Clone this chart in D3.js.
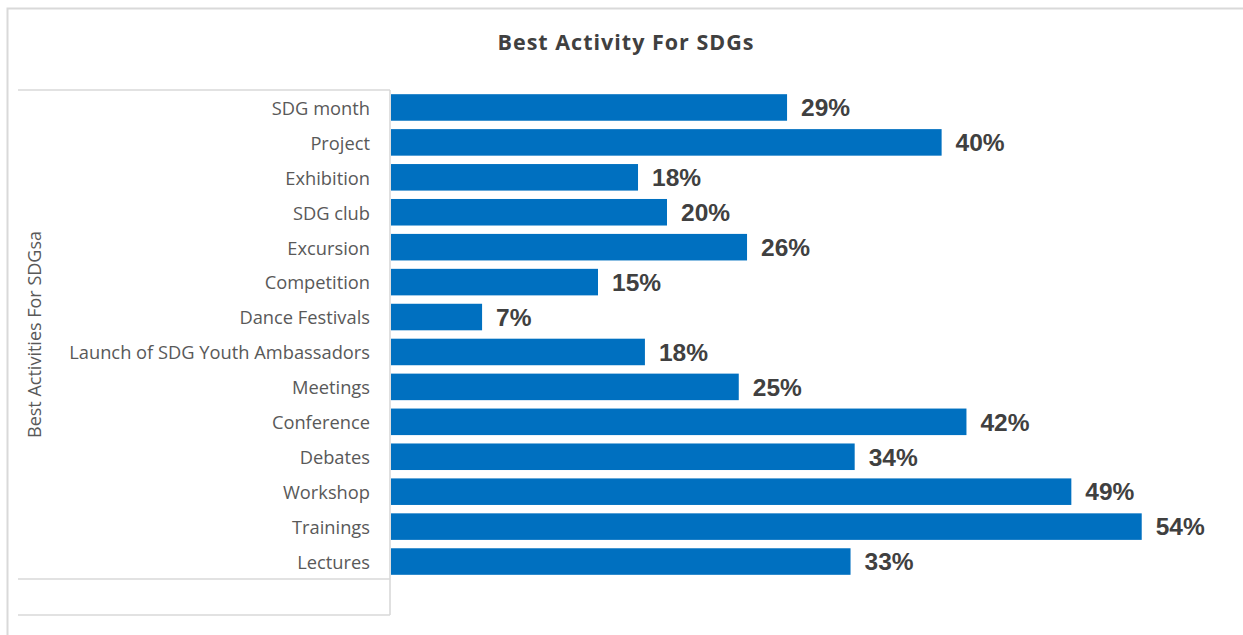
<!DOCTYPE html>
<html>
<head>
<meta charset="utf-8">
<script src="https://cdn.jsdelivr.net/npm/d3@7"></script>
<style>
  html, body { margin: 0; padding: 0; background: #ffffff; }
  svg { display: block; }
</style>
</head>
<body>
<svg id="chart" width="1243" height="635"></svg>
<script>
// Chart data
const chartTitle = "Best Activity For SDGs";
const axisTitle = "Best Activities For SDGsa";
const categories = [
  "SDG month ", "Project", "Exhibition", "SDG club", "Excursion", "Competition",
  "Dance Festivals", "Launch of SDG Youth Ambassadors", "Meetings", "Conference",
  "Debates", "Workshop", "Trainings", "Lectures"
];
// Share of respondents choosing each activity
const shares = [
  0.287, 0.399, 0.179, 0.200, 0.258, 0.150,
  0.066, 0.184, 0.252, 0.417, 0.336, 0.493, 0.544, 0.333
];
const axisMax = 0.6;

const svg = d3.select("#chart");
const W = 1243, H = 635;

// Outer chart frame
svg.append("rect")
  .attr("x", 7.5).attr("y", 8.5)
  .attr("width", W + 10).attr("height", H + 10)
  .attr("fill", "#ffffff")
  .attr("stroke", "#d9d9d9").attr("stroke-width", 2);

// Title
svg.append("text")
  .attr("x", 626).attr("y", 50)
  .attr("text-anchor", "middle")
  .attr("font-family", "'Open Sans', sans-serif")
  .attr("font-weight", 700)
  .attr("font-size", 21.5)
  .attr("letter-spacing", 1.0)
  .attr("fill", "#404040")
  .text(chartTitle);

const plotLeft = 391, plotTop = 90, plotBottom = 579;

const y = d3.scaleBand()
  .domain(categories)
  .range([plotTop, plotBottom])
  .paddingInner(0.24)
  .paddingOuter(0.12);

const x = d3.scaleLinear()
  .domain([0, axisMax])
  .range([plotLeft, plotLeft + 828]);

// Category axis frame (grouped table style)
const frame = svg.append("g")
  .attr("stroke", "#d9d9d9").attr("stroke-width", 1.6).attr("fill", "none");
frame.append("line").attr("x1", 18).attr("x2", 390).attr("y1", plotTop).attr("y2", plotTop);
frame.append("line").attr("x1", 18).attr("x2", 390).attr("y1", plotBottom).attr("y2", plotBottom);
frame.append("line").attr("x1", 18).attr("x2", 390).attr("y1", 615).attr("y2", 615);
frame.append("line").attr("x1", 390).attr("x2", 390).attr("y1", plotTop).attr("y2", 615);

// Category labels via D3 axis
const yAxis = d3.axisLeft(y).tickSize(0).tickPadding(20);
const gy = svg.append("g")
  .attr("transform", `translate(390,0)`)
  .call(yAxis);
gy.select(".domain").remove();
gy.selectAll("text")
  .attr("dy", "0.4em")
  .attr("font-family", "'Open Sans', sans-serif")
  .attr("font-size", 18.3)
  .attr("fill", "#595959");

// Axis title
svg.append("text")
  .attr("transform", `translate(41,${(plotTop + plotBottom) / 2}) rotate(-90)`)
  .attr("text-anchor", "middle")
  .attr("font-family", "'Open Sans', sans-serif")
  .attr("font-size", 18)
  .attr("fill", "#595959")
  .text(axisTitle);

// Bars
svg.append("g")
  .selectAll("rect")
  .data(categories)
  .join("rect")
  .attr("x", x(0))
  .attr("y", d => y(d))
  .attr("width", (d, i) => x(shares[i]) - x(0))
  .attr("height", y.bandwidth())
  .attr("fill", "#0070C0");

// Value labels
const fmt = d3.format(".0%");
svg.append("g")
  .selectAll("text")
  .data(categories)
  .join("text")
  .attr("x", (d, i) => x(shares[i]) + 14)
  .attr("y", d => y(d) + y.bandwidth() / 2)
  .attr("dy", "0.36em")
  .attr("font-family", "'Liberation Sans', Arial, sans-serif")
  .attr("font-weight", 700)
  .attr("font-size", 24.5)
  .attr("fill", "#404040")
  .text((d, i) => fmt(shares[i]));
</script>
</body>
</html>
